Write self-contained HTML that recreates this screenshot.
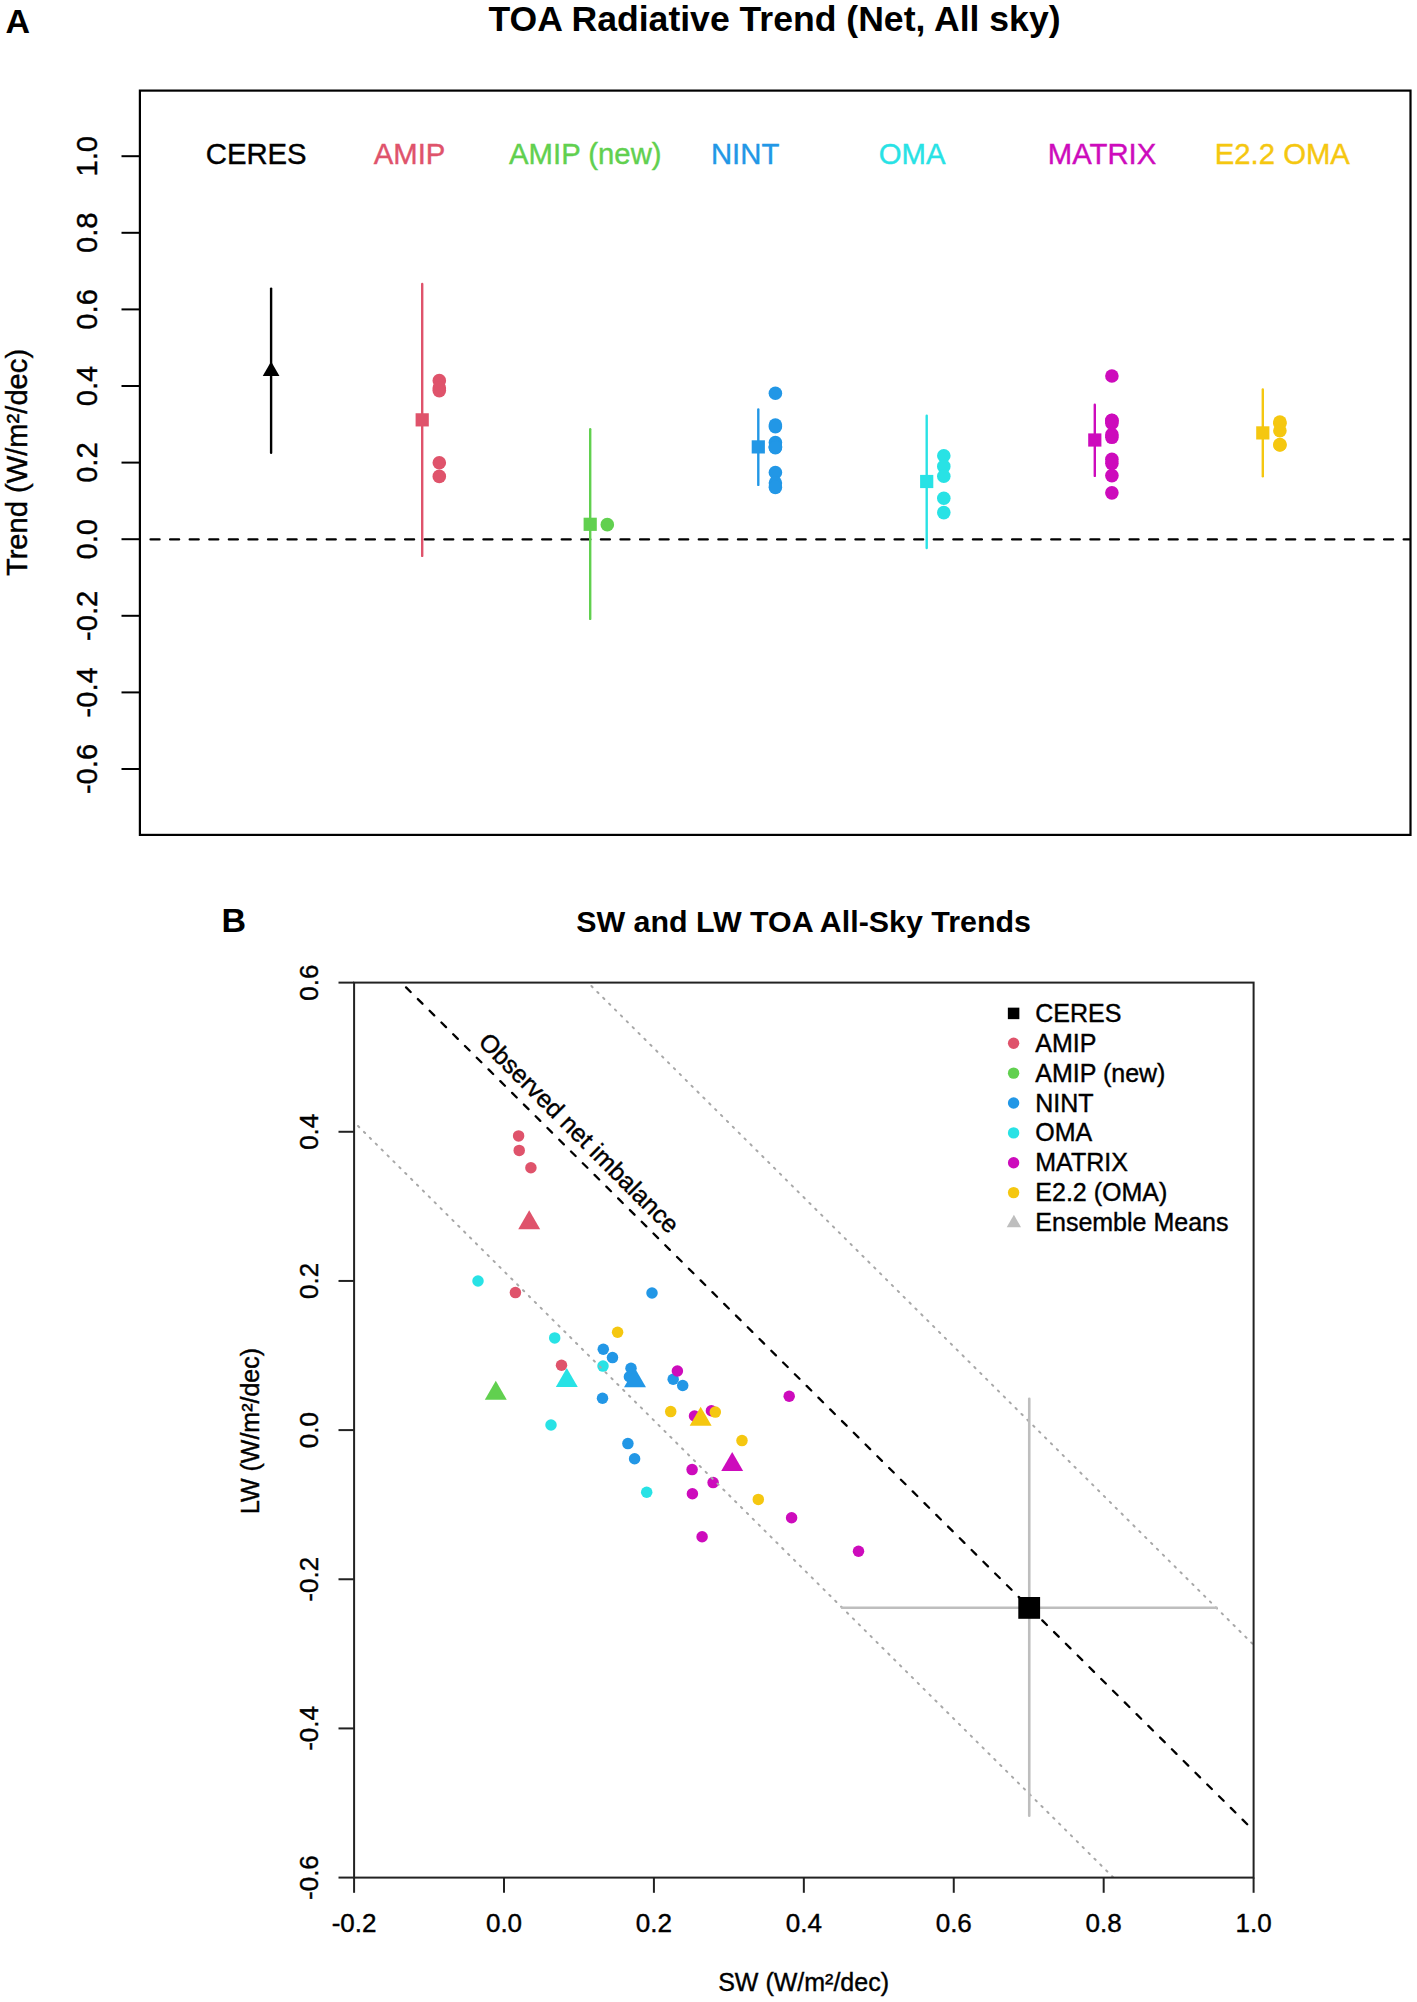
<!DOCTYPE html>
<html><head><meta charset="utf-8"><title>TOA Radiative Trends</title>
<style>
html,body{margin:0;padding:0;background:#fff;}
body{width:1417px;height:2002px;overflow:hidden;}
svg{display:block;font-family:"Liberation Sans",sans-serif;}
</style></head><body>
<svg width="1417" height="2002" viewBox="0 0 1417 2002">
<rect x="0" y="0" width="1417" height="2002" fill="#fff"/>
<text x="5.5" y="32.8" font-size="34" fill="#000" text-anchor="start" font-weight="bold">A</text>
<text x="774.5" y="31.3" font-size="35.6" fill="#000" text-anchor="middle" font-weight="bold">TOA Radiative Trend (Net, All sky)</text>
<rect x="139.9" y="90.6" width="1270.6" height="744.3" fill="none" stroke="#000" stroke-width="2.2"/>
<line x1="121.5" y1="156.2" x2="139.9" y2="156.2" stroke="#000" stroke-width="2" stroke-linecap="butt"/>
<text transform="translate(97.3,156.2) rotate(-90) scale(0.985,1)" x="0" y="0" font-size="29.6" fill="#000" text-anchor="middle" stroke="#000" stroke-width="0.4">1.0</text>
<line x1="121.5" y1="232.8" x2="139.9" y2="232.8" stroke="#000" stroke-width="2" stroke-linecap="butt"/>
<text transform="translate(97.3,232.8) rotate(-90) scale(0.985,1)" x="0" y="0" font-size="29.6" fill="#000" text-anchor="middle" stroke="#000" stroke-width="0.4">0.8</text>
<line x1="121.5" y1="309.4" x2="139.9" y2="309.4" stroke="#000" stroke-width="2" stroke-linecap="butt"/>
<text transform="translate(97.3,309.4) rotate(-90) scale(0.985,1)" x="0" y="0" font-size="29.6" fill="#000" text-anchor="middle" stroke="#000" stroke-width="0.4">0.6</text>
<line x1="121.5" y1="386" x2="139.9" y2="386" stroke="#000" stroke-width="2" stroke-linecap="butt"/>
<text transform="translate(97.3,386) rotate(-90) scale(0.985,1)" x="0" y="0" font-size="29.6" fill="#000" text-anchor="middle" stroke="#000" stroke-width="0.4">0.4</text>
<line x1="121.5" y1="462.6" x2="139.9" y2="462.6" stroke="#000" stroke-width="2" stroke-linecap="butt"/>
<text transform="translate(97.3,462.6) rotate(-90) scale(0.985,1)" x="0" y="0" font-size="29.6" fill="#000" text-anchor="middle" stroke="#000" stroke-width="0.4">0.2</text>
<line x1="121.5" y1="539.2" x2="139.9" y2="539.2" stroke="#000" stroke-width="2" stroke-linecap="butt"/>
<text transform="translate(97.3,539.2) rotate(-90) scale(0.985,1)" x="0" y="0" font-size="29.6" fill="#000" text-anchor="middle" stroke="#000" stroke-width="0.4">0.0</text>
<line x1="121.5" y1="615.8" x2="139.9" y2="615.8" stroke="#000" stroke-width="2" stroke-linecap="butt"/>
<text transform="translate(97.3,615.8) rotate(-90) scale(0.985,1)" x="0" y="0" font-size="29.6" fill="#000" text-anchor="middle" stroke="#000" stroke-width="0.4">-0.2</text>
<line x1="121.5" y1="692.4" x2="139.9" y2="692.4" stroke="#000" stroke-width="2" stroke-linecap="butt"/>
<text transform="translate(97.3,692.4) rotate(-90) scale(0.985,1)" x="0" y="0" font-size="29.6" fill="#000" text-anchor="middle" stroke="#000" stroke-width="0.4">-0.4</text>
<line x1="121.5" y1="769" x2="139.9" y2="769" stroke="#000" stroke-width="2" stroke-linecap="butt"/>
<text transform="translate(97.3,769) rotate(-90) scale(0.985,1)" x="0" y="0" font-size="29.6" fill="#000" text-anchor="middle" stroke="#000" stroke-width="0.4">-0.6</text>
<text transform="translate(27.3,462.5) rotate(-90) scale(0.985,1)" x="0" y="0" font-size="29.6" fill="#000" text-anchor="middle" stroke="#000" stroke-width="0.4">Trend (W/m²/dec)</text>
<line x1="141" y1="539.45" x2="1409.4" y2="539.45" stroke="#000" stroke-width="2.3" stroke-linecap="round" stroke-dasharray="9 10.58" stroke-dashoffset="-9.55"/>
<text transform="translate(256.2,164.3) scale(0.98,1)" x="0" y="0" font-size="29.9" fill="#000000" text-anchor="middle" stroke="#000000" stroke-width="0.4">CERES</text>
<text transform="translate(409.5,164.3) scale(0.98,1)" x="0" y="0" font-size="29.9" fill="#DF536B" text-anchor="middle" stroke="#DF536B" stroke-width="0.4">AMIP</text>
<text transform="translate(585.3,164.3) scale(0.98,1)" x="0" y="0" font-size="29.9" fill="#61D04F" text-anchor="middle" stroke="#61D04F" stroke-width="0.4">AMIP (new)</text>
<text transform="translate(745.1,164.3) scale(0.98,1)" x="0" y="0" font-size="29.9" fill="#2297E6" text-anchor="middle" stroke="#2297E6" stroke-width="0.4">NINT</text>
<text transform="translate(912.2,164.3) scale(0.98,1)" x="0" y="0" font-size="29.9" fill="#28E2E5" text-anchor="middle" stroke="#28E2E5" stroke-width="0.4">OMA</text>
<text transform="translate(1102,164.3) scale(0.98,1)" x="0" y="0" font-size="29.9" fill="#CD0BBC" text-anchor="middle" stroke="#CD0BBC" stroke-width="0.4">MATRIX</text>
<text transform="translate(1282.3,164.3) scale(0.98,1)" x="0" y="0" font-size="29.9" fill="#F5C710" text-anchor="middle" stroke="#F5C710" stroke-width="0.4">E2.2 OMA</text>
<line x1="271.1" y1="288.6" x2="271.1" y2="452.7" stroke="#000000" stroke-width="2.4" stroke-linecap="round"/>
<polygon points="271.1,361.433 279.472,375.933 262.728,375.933" fill="#000000"/>
<line x1="422.2" y1="283.9" x2="422.2" y2="555.9" stroke="#DF536B" stroke-width="2.4" stroke-linecap="round"/>
<rect x="415.6" y="413.25" width="13.2" height="13.2" fill="#DF536B"/>
<circle cx="439.3" cy="380.638" r="6.8" fill="#DF536B"/>
<circle cx="439.3" cy="387.915" r="6.8" fill="#DF536B"/>
<circle cx="439.3" cy="390.596" r="6.8" fill="#DF536B"/>
<circle cx="439.3" cy="462.753" r="6.8" fill="#DF536B"/>
<circle cx="439.3" cy="476.388" r="6.8" fill="#DF536B"/>
<line x1="590.2" y1="429.3" x2="590.2" y2="618.9" stroke="#61D04F" stroke-width="2.4" stroke-linecap="round"/>
<rect x="583.6" y="517.7" width="13.2" height="13.2" fill="#61D04F"/>
<circle cx="607.3" cy="524.646" r="6.8" fill="#61D04F"/>
<line x1="758.3" y1="409.5" x2="758.3" y2="484.9" stroke="#2297E6" stroke-width="2.4" stroke-linecap="round"/>
<rect x="751.7" y="440.3" width="13.2" height="13.2" fill="#2297E6"/>
<circle cx="775.4" cy="393.277" r="6.8" fill="#2297E6"/>
<circle cx="775.4" cy="426.751" r="6.8" fill="#2297E6"/>
<circle cx="775.4" cy="425.104" r="6.8" fill="#2297E6"/>
<circle cx="775.4" cy="442.607" r="6.8" fill="#2297E6"/>
<circle cx="775.4" cy="447.089" r="6.8" fill="#2297E6"/>
<circle cx="775.4" cy="446.629" r="6.8" fill="#2297E6"/>
<circle cx="775.4" cy="447.816" r="6.8" fill="#2297E6"/>
<circle cx="775.4" cy="472.481" r="6.8" fill="#2297E6"/>
<circle cx="775.4" cy="483.014" r="6.8" fill="#2297E6"/>
<circle cx="775.4" cy="487.342" r="6.8" fill="#2297E6"/>
<line x1="926.7" y1="415.7" x2="926.7" y2="548.1" stroke="#28E2E5" stroke-width="2.4" stroke-linecap="round"/>
<rect x="920.1" y="474.9" width="13.2" height="13.2" fill="#28E2E5"/>
<circle cx="943.8" cy="455.706" r="6.8" fill="#28E2E5"/>
<circle cx="943.8" cy="466.43" r="6.8" fill="#28E2E5"/>
<circle cx="943.8" cy="476.197" r="6.8" fill="#28E2E5"/>
<circle cx="943.8" cy="498.219" r="6.8" fill="#28E2E5"/>
<circle cx="943.8" cy="512.582" r="6.8" fill="#28E2E5"/>
<line x1="1094.8" y1="404.7" x2="1094.8" y2="475.9" stroke="#CD0BBC" stroke-width="2.4" stroke-linecap="round"/>
<rect x="1088.2" y="433.4" width="13.2" height="13.2" fill="#CD0BBC"/>
<circle cx="1111.9" cy="376.042" r="6.8" fill="#CD0BBC"/>
<circle cx="1111.9" cy="420.24" r="6.8" fill="#CD0BBC"/>
<circle cx="1111.9" cy="420.47" r="6.8" fill="#CD0BBC"/>
<circle cx="1111.9" cy="423.266" r="6.8" fill="#CD0BBC"/>
<circle cx="1111.9" cy="434.641" r="6.8" fill="#CD0BBC"/>
<circle cx="1111.9" cy="437.322" r="6.8" fill="#CD0BBC"/>
<circle cx="1111.9" cy="459.345" r="6.8" fill="#CD0BBC"/>
<circle cx="1111.9" cy="463.366" r="6.8" fill="#CD0BBC"/>
<circle cx="1111.9" cy="475.622" r="6.8" fill="#CD0BBC"/>
<circle cx="1111.9" cy="492.857" r="6.8" fill="#CD0BBC"/>
<line x1="1262.8" y1="389.4" x2="1262.8" y2="476.3" stroke="#F5C710" stroke-width="2.4" stroke-linecap="round"/>
<rect x="1256.2" y="426.3" width="13.2" height="13.2" fill="#F5C710"/>
<circle cx="1279.9" cy="422.002" r="6.8" fill="#F5C710"/>
<circle cx="1279.9" cy="423.151" r="6.8" fill="#F5C710"/>
<circle cx="1279.9" cy="430.811" r="6.8" fill="#F5C710"/>
<circle cx="1279.9" cy="444.599" r="6.8" fill="#F5C710"/>
<circle cx="1279.9" cy="444.982" r="6.8" fill="#F5C710"/>
<text x="221.5" y="931.8" font-size="34" fill="#000" text-anchor="start" font-weight="bold">B</text>
<text x="803.6" y="932.4" font-size="30.4" fill="#000" text-anchor="middle" font-weight="bold">SW and LW TOA All-Sky Trends</text>
<clipPath id="cb"><rect x="354.1" y="982.6" width="899.5" height="895"/></clipPath>
<g>
<circle cx="518.6" cy="1135.9" r="5.75" fill="#DF536B"/>
<circle cx="519.2" cy="1150.4" r="5.75" fill="#DF536B"/>
<circle cx="530.9" cy="1167.7" r="5.75" fill="#DF536B"/>
<circle cx="515.4" cy="1292.6" r="5.75" fill="#DF536B"/>
<circle cx="561.5" cy="1365.2" r="5.75" fill="#DF536B"/>
<circle cx="478" cy="1281" r="5.75" fill="#28E2E5"/>
<circle cx="554.7" cy="1337.9" r="5.75" fill="#28E2E5"/>
<circle cx="603" cy="1366.1" r="5.75" fill="#28E2E5"/>
<circle cx="551" cy="1425" r="5.75" fill="#28E2E5"/>
<circle cx="646.7" cy="1492.3" r="5.75" fill="#28E2E5"/>
<circle cx="652" cy="1293" r="5.75" fill="#2297E6"/>
<circle cx="603.3" cy="1349.3" r="5.75" fill="#2297E6"/>
<circle cx="612.5" cy="1357.6" r="5.75" fill="#2297E6"/>
<circle cx="631" cy="1368.2" r="5.75" fill="#2297E6"/>
<circle cx="629.4" cy="1376.7" r="5.75" fill="#2297E6"/>
<circle cx="673.2" cy="1379.2" r="5.75" fill="#2297E6"/>
<circle cx="682.7" cy="1385.5" r="5.75" fill="#2297E6"/>
<circle cx="602.5" cy="1398.2" r="5.75" fill="#2297E6"/>
<circle cx="627.9" cy="1443.6" r="5.75" fill="#2297E6"/>
<circle cx="634.6" cy="1458.7" r="5.75" fill="#2297E6"/>
<circle cx="677.4" cy="1371" r="5.75" fill="#CD0BBC"/>
<circle cx="694.5" cy="1416" r="5.75" fill="#CD0BBC"/>
<circle cx="711.4" cy="1410.7" r="5.75" fill="#CD0BBC"/>
<circle cx="692.1" cy="1469.6" r="5.75" fill="#CD0BBC"/>
<circle cx="713.1" cy="1482.6" r="5.75" fill="#CD0BBC"/>
<circle cx="692.4" cy="1493.7" r="5.75" fill="#CD0BBC"/>
<circle cx="702.1" cy="1536.8" r="5.75" fill="#CD0BBC"/>
<circle cx="789.2" cy="1396.2" r="5.75" fill="#CD0BBC"/>
<circle cx="791.6" cy="1517.8" r="5.75" fill="#CD0BBC"/>
<circle cx="858.5" cy="1551.3" r="5.75" fill="#CD0BBC"/>
<circle cx="617.6" cy="1332.2" r="5.75" fill="#F5C710"/>
<circle cx="670.7" cy="1411.6" r="5.75" fill="#F5C710"/>
<circle cx="715.3" cy="1412.1" r="5.75" fill="#F5C710"/>
<circle cx="742" cy="1440.6" r="5.75" fill="#F5C710"/>
<circle cx="758.3" cy="1499.4" r="5.75" fill="#F5C710"/>
</g>
<polygon points="529.2,1210.133 540.17,1229.133 518.23,1229.133" fill="#DF536B"/>
<polygon points="495.8,1380.733 506.77,1399.733 484.83,1399.733" fill="#61D04F"/>
<polygon points="566.8,1367.933 577.77,1386.933 555.83,1386.933" fill="#28E2E5"/>
<polygon points="635,1368.233 645.97,1387.233 624.03,1387.233" fill="#2297E6"/>
<polygon points="732.2,1452.033 743.17,1471.033 721.23,1471.033" fill="#CD0BBC"/>
<polygon points="700.65,1406.733 711.62,1425.733 689.68,1425.733" fill="#F5C710"/>
<g clip-path="url(#cb)">
<line x1="401.305" y1="982.62" x2="1253.6" y2="1830.595" stroke="#000" stroke-width="2.3" stroke-linecap="round" stroke-dasharray="6.5 10.12" stroke-dashoffset="-6.72"/>
<line x1="587.955" y1="982.62" x2="1253.6" y2="1644.89" stroke="#A8A8A8" stroke-width="2" stroke-linecap="round" stroke-dasharray="1.6 6.71" stroke-dashoffset="-4.9"/>
<line x1="213.905" y1="982.62" x2="1253.6" y2="2017.045" stroke="#A8A8A8" stroke-width="2" stroke-linecap="round" stroke-dasharray="1.6 6.71" stroke-dashoffset="-3.94"/>
</g>
<line x1="842" y1="1607.7" x2="1216.5" y2="1607.7" stroke="#BEBEBE" stroke-width="2.6" stroke-linecap="round"/>
<line x1="1029.25" y1="1398.7" x2="1029.25" y2="1815.8" stroke="#BEBEBE" stroke-width="2.6" stroke-linecap="round"/>
<rect x="1018.3" y="1597" width="21.8" height="21.8" fill="#000000"/>
<rect x="354.1" y="982.6" width="899.5" height="895" fill="none" stroke="#222" stroke-width="2.0"/>
<line x1="354.08" y1="1877.6" x2="354.08" y2="1892.8" stroke="#222" stroke-width="2" stroke-linecap="butt"/>
<text x="354.08" y="1931.6" font-size="26" fill="#000" text-anchor="middle" stroke="#000" stroke-width="0.4">-0.2</text>
<line x1="504" y1="1877.6" x2="504" y2="1892.8" stroke="#222" stroke-width="2" stroke-linecap="butt"/>
<text x="504" y="1931.6" font-size="26" fill="#000" text-anchor="middle" stroke="#000" stroke-width="0.4">0.0</text>
<line x1="653.92" y1="1877.6" x2="653.92" y2="1892.8" stroke="#222" stroke-width="2" stroke-linecap="butt"/>
<text x="653.92" y="1931.6" font-size="26" fill="#000" text-anchor="middle" stroke="#000" stroke-width="0.4">0.2</text>
<line x1="803.84" y1="1877.6" x2="803.84" y2="1892.8" stroke="#222" stroke-width="2" stroke-linecap="butt"/>
<text x="803.84" y="1931.6" font-size="26" fill="#000" text-anchor="middle" stroke="#000" stroke-width="0.4">0.4</text>
<line x1="953.76" y1="1877.6" x2="953.76" y2="1892.8" stroke="#222" stroke-width="2" stroke-linecap="butt"/>
<text x="953.76" y="1931.6" font-size="26" fill="#000" text-anchor="middle" stroke="#000" stroke-width="0.4">0.6</text>
<line x1="1103.68" y1="1877.6" x2="1103.68" y2="1892.8" stroke="#222" stroke-width="2" stroke-linecap="butt"/>
<text x="1103.68" y="1931.6" font-size="26" fill="#000" text-anchor="middle" stroke="#000" stroke-width="0.4">0.8</text>
<line x1="1253.6" y1="1877.6" x2="1253.6" y2="1892.8" stroke="#222" stroke-width="2" stroke-linecap="butt"/>
<text x="1253.6" y="1931.6" font-size="26" fill="#000" text-anchor="middle" stroke="#000" stroke-width="0.4">1.0</text>
<line x1="338.5" y1="982.62" x2="354.1" y2="982.62" stroke="#222" stroke-width="2" stroke-linecap="butt"/>
<text transform="translate(318.3,982.62) rotate(-90)" x="0" y="0" font-size="26" fill="#000" text-anchor="middle" stroke="#000" stroke-width="0.4">0.6</text>
<line x1="338.5" y1="1131.78" x2="354.1" y2="1131.78" stroke="#222" stroke-width="2" stroke-linecap="butt"/>
<text transform="translate(318.3,1131.78) rotate(-90)" x="0" y="0" font-size="26" fill="#000" text-anchor="middle" stroke="#000" stroke-width="0.4">0.4</text>
<line x1="338.5" y1="1280.94" x2="354.1" y2="1280.94" stroke="#222" stroke-width="2" stroke-linecap="butt"/>
<text transform="translate(318.3,1280.94) rotate(-90)" x="0" y="0" font-size="26" fill="#000" text-anchor="middle" stroke="#000" stroke-width="0.4">0.2</text>
<line x1="338.5" y1="1430.1" x2="354.1" y2="1430.1" stroke="#222" stroke-width="2" stroke-linecap="butt"/>
<text transform="translate(318.3,1430.1) rotate(-90)" x="0" y="0" font-size="26" fill="#000" text-anchor="middle" stroke="#000" stroke-width="0.4">0.0</text>
<line x1="338.5" y1="1579.26" x2="354.1" y2="1579.26" stroke="#222" stroke-width="2" stroke-linecap="butt"/>
<text transform="translate(318.3,1579.26) rotate(-90)" x="0" y="0" font-size="26" fill="#000" text-anchor="middle" stroke="#000" stroke-width="0.4">-0.2</text>
<line x1="338.5" y1="1728.42" x2="354.1" y2="1728.42" stroke="#222" stroke-width="2" stroke-linecap="butt"/>
<text transform="translate(318.3,1728.42) rotate(-90)" x="0" y="0" font-size="26" fill="#000" text-anchor="middle" stroke="#000" stroke-width="0.4">-0.4</text>
<line x1="338.5" y1="1877.58" x2="354.1" y2="1877.58" stroke="#222" stroke-width="2" stroke-linecap="butt"/>
<text transform="translate(318.3,1877.58) rotate(-90)" x="0" y="0" font-size="26" fill="#000" text-anchor="middle" stroke="#000" stroke-width="0.4">-0.6</text>
<text x="803.6" y="1990.5" font-size="25" fill="#000" text-anchor="middle" stroke="#000" stroke-width="0.4">SW (W/m²/dec)</text>
<text transform="translate(258.5,1431) rotate(-90)" x="0" y="0" font-size="25" fill="#000" text-anchor="middle" stroke="#000" stroke-width="0.4">LW (W/m²/dec)</text>
<text transform="translate(573,1139) rotate(45)" x="0" y="0" font-size="25" fill="#000" text-anchor="middle" stroke="#000" stroke-width="0.4">Observed net imbalance</text>
<rect x="1007.85" y="1007.65" width="11.5" height="11.5" fill="#000000"/>
<text x="1035.3" y="1022" font-size="25" fill="#000" text-anchor="start" stroke="#000" stroke-width="0.4">CERES</text>
<circle cx="1013.6" cy="1043.27" r="5.7" fill="#DF536B"/>
<text x="1035.3" y="1051.87" font-size="25" fill="#000" text-anchor="start" stroke="#000" stroke-width="0.4">AMIP</text>
<circle cx="1013.6" cy="1073.14" r="5.7" fill="#61D04F"/>
<text x="1035.3" y="1081.74" font-size="25" fill="#000" text-anchor="start" stroke="#000" stroke-width="0.4">AMIP (new)</text>
<circle cx="1013.6" cy="1103.01" r="5.7" fill="#2297E6"/>
<text x="1035.3" y="1111.61" font-size="25" fill="#000" text-anchor="start" stroke="#000" stroke-width="0.4">NINT</text>
<circle cx="1013.6" cy="1132.88" r="5.7" fill="#28E2E5"/>
<text x="1035.3" y="1141.48" font-size="25" fill="#000" text-anchor="start" stroke="#000" stroke-width="0.4">OMA</text>
<circle cx="1013.6" cy="1162.75" r="5.7" fill="#CD0BBC"/>
<text x="1035.3" y="1171.35" font-size="25" fill="#000" text-anchor="start" stroke="#000" stroke-width="0.4">MATRIX</text>
<circle cx="1013.6" cy="1192.62" r="5.7" fill="#F5C710"/>
<text x="1035.3" y="1201.22" font-size="25" fill="#000" text-anchor="start" stroke="#000" stroke-width="0.4">E2.2 (OMA)</text>
<polygon points="1013.9,1214.823 1021.059,1227.223 1006.741,1227.223" fill="#BEBEBE"/>
<text x="1035.3" y="1231.09" font-size="25" fill="#000" text-anchor="start" stroke="#000" stroke-width="0.4">Ensemble Means</text>
</svg>
</body></html>
